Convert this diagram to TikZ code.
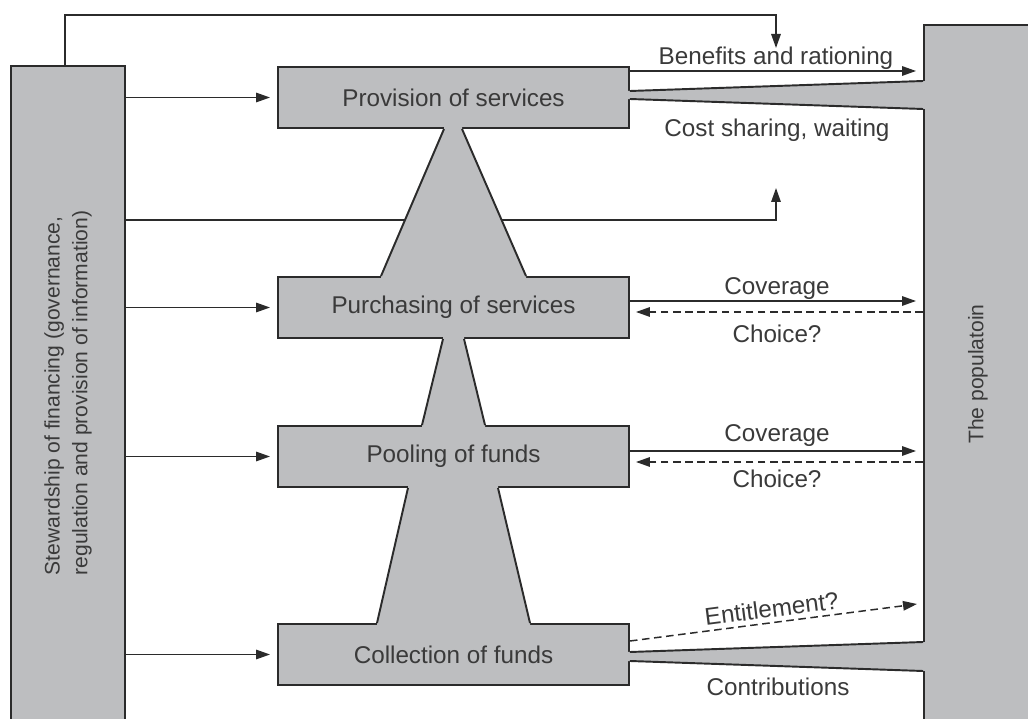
\documentclass[tikz,border=0pt]{standalone}
\usepackage{fontspec}
\setmainfont{Liberation Sans}
\usetikzlibrary{arrows.meta,calc}

\definecolor{boxgray}{HTML}{BDBEC0}
\definecolor{ink}{HTML}{2B2B2B}
\definecolor{txt}{HTML}{3A3A3A}

\tikzset{
  size/.style 2 args={minimum width=#1*0.02cm, minimum height=#2*0.02cm},
  block/.style={draw=ink, fill=boxgray, line width=1.1pt, inner sep=0pt,
                text=txt, font=\fontsize{13.8}{16}\selectfont},
  outline/.style={draw=ink, line width=1.1pt},
  arr/.style={draw=ink, line width=0.85pt, -{Triangle[length=0.28cm,width=0.19cm]}},
  dasharr/.style={arr, dash pattern=on 4.3pt off 2.6pt},
  lbl/.style={text=txt, font=\fontsize{13.8}{16}\selectfont, inner sep=0pt},
  sidetext/.style={text=txt, font=\fontsize{12}{15.8}\selectfont, rotate=90,
                   align=left, inner sep=0pt},
}

% neck joining two stacked boxes:
% #1 upper box, #2 lower box, #3/#4 top x-offsets, #5/#6 bottom x-offsets
\newcommand\drawneck[6]{%
  \fill[boxgray] ($(#1.south)+(#3,-2)$) -- ($(#1.south)+(#4,-2)$)
    -- ($(#1.south)+(#4,0)$) -- ($(#2.north)+(#6,0)$)
    -- ($(#2.north)+(#6,2)$) -- ($(#2.north)+(#5,2)$)
    -- ($(#2.north)+(#5,0)$) -- ($(#1.south)+(#3,0)$) -- cycle;
  \draw[outline] ($(#1.south)+(#3,0)$) -- ($(#2.north)+(#5,0)$)
                 ($(#1.south)+(#4,0)$) -- ($(#2.north)+(#6,0)$);}

% funnel from a box to the population:
% #1 box, #2/#3 box-side y-offsets, #4/#5 population-side y-offsets
\newcommand\drawfunnel[5]{%
  \fill[boxgray] ($(#1.east)+(-2,#2)$) -- ($(pop.west |- #1.east)+(2,#4)$)
    -- ($(pop.west |- #1.east)+(2,#5)$) -- ($(#1.east)+(-2,#3)$) -- cycle;
  \draw[outline] ($(#1.east)+(0,#2)$) -- ($(pop.west |- #1.east)+(0,#4)$)
                 ($(#1.east)+(0,#3)$) -- ($(pop.west |- #1.east)+(0,#5)$);}

\begin{document}
\begin{tikzpicture}[x=0.02cm, y=-0.02cm]
\useasboundingbox (0,0) rectangle (1028,719);
\clip (0,0) rectangle (1028,719);

% side columns
\node[block, size={114}{654},
      label={[sidetext]center:{Stewardship of financing (governance,\\regulation and provision of information)}}]
      (stew) at (68,393) {};
\node[block, size={108}{698}, label={[sidetext]center:The populatoin}]
      (pop) at (978,374) {};

% the four functions
\node[block, size={351}{61}] (prov)  at (453.5,97.5)  {Provision of services};
\node[block, size={351}{61}] (purch) at (453.5,307.5) {Purchasing of services};
\node[block, size={351}{61}] (pool)  at (453.5,456.5) {Pooling of funds};
\node[block, size={351}{61}] (coll)  at (453.5,654.5) {Collection of funds};

% free ends of the stewardship connectors
\coordinate (topbend) at (776,15);
\coordinate (bentip)  at (776,48);
\coordinate (costrow) at (0,220);
\coordinate (costtip) at (776,188);
\coordinate (enttip)  at (917,604);

% stewardship connectors
\draw[arr] ($(stew.north)+(-3,0)$) |- (topbend) -- (bentip);
\draw[arr] (stew.east |- costrow) -| (costtip);
\foreach \b in {prov,purch,pool,coll}
  \draw[arr, shorten >=0.14cm] (stew.east |- \b.west) -- (\b.west);

% flows towards the population
\draw[arr, shorten >=0.14cm] ($(prov.east)+(0,-26.5)$) -- ($(pop.west |- prov.east)+(0,-26.5)$);
\draw[arr, shorten >=0.14cm] ($(purch.east)+(0,-6.5)$) -- ($(pop.west |- purch.east)+(0,-6.5)$);
\draw[dasharr, shorten >=0.12cm] ($(pop.west |- purch.east)+(0,4.5)$) -- ($(purch.east)+(0,4.5)$);
\draw[arr, shorten >=0.14cm] ($(pool.east)+(0,-5.5)$) -- ($(pop.west |- pool.east)+(0,-5.5)$);
\draw[dasharr, shorten >=0.12cm] ($(pop.west |- pool.east)+(0,5.5)$) -- ($(pool.east)+(0,5.5)$);
\draw[dasharr] ($(coll.east)+(0,-13.5)$) -- (enttip)
  node[lbl, midway, sloped, above=2.5pt] (entlbl) {Entitlement?};

% necks between the functions
\drawneck{prov}{purch}{-9.5}{8.5}{-72.5}{72.5}
\drawneck{purch}{pool}{-10.5}{10.5}{-31.5}{31.5}
\drawneck{pool}{coll}{-45.5}{44.5}{-76.5}{76.5}

% funnels into the population
\drawfunnel{prov}{-6.5}{1.5}{-16.5}{11.5}
\drawfunnel{coll}{-2.5}{6.5}{-12.5}{16.5}

% labels
\node[lbl] (benlbl)  at (776,58)  {Benefits and rationing};
\node[lbl] (costlbl) at (777,130) {Cost sharing, waiting};
\node[lbl] (cov1)    at (777,289) {Coverage};
\node[lbl] (cho1)    at (777,334) {Choice?};
\node[lbl] (cov2)    at (777,436) {Coverage};
\node[lbl] (cho2)    at (777,479) {Choice?};
\node[lbl] (contlbl) at (778,687) {Contributions};
\end{tikzpicture}
\end{document}
